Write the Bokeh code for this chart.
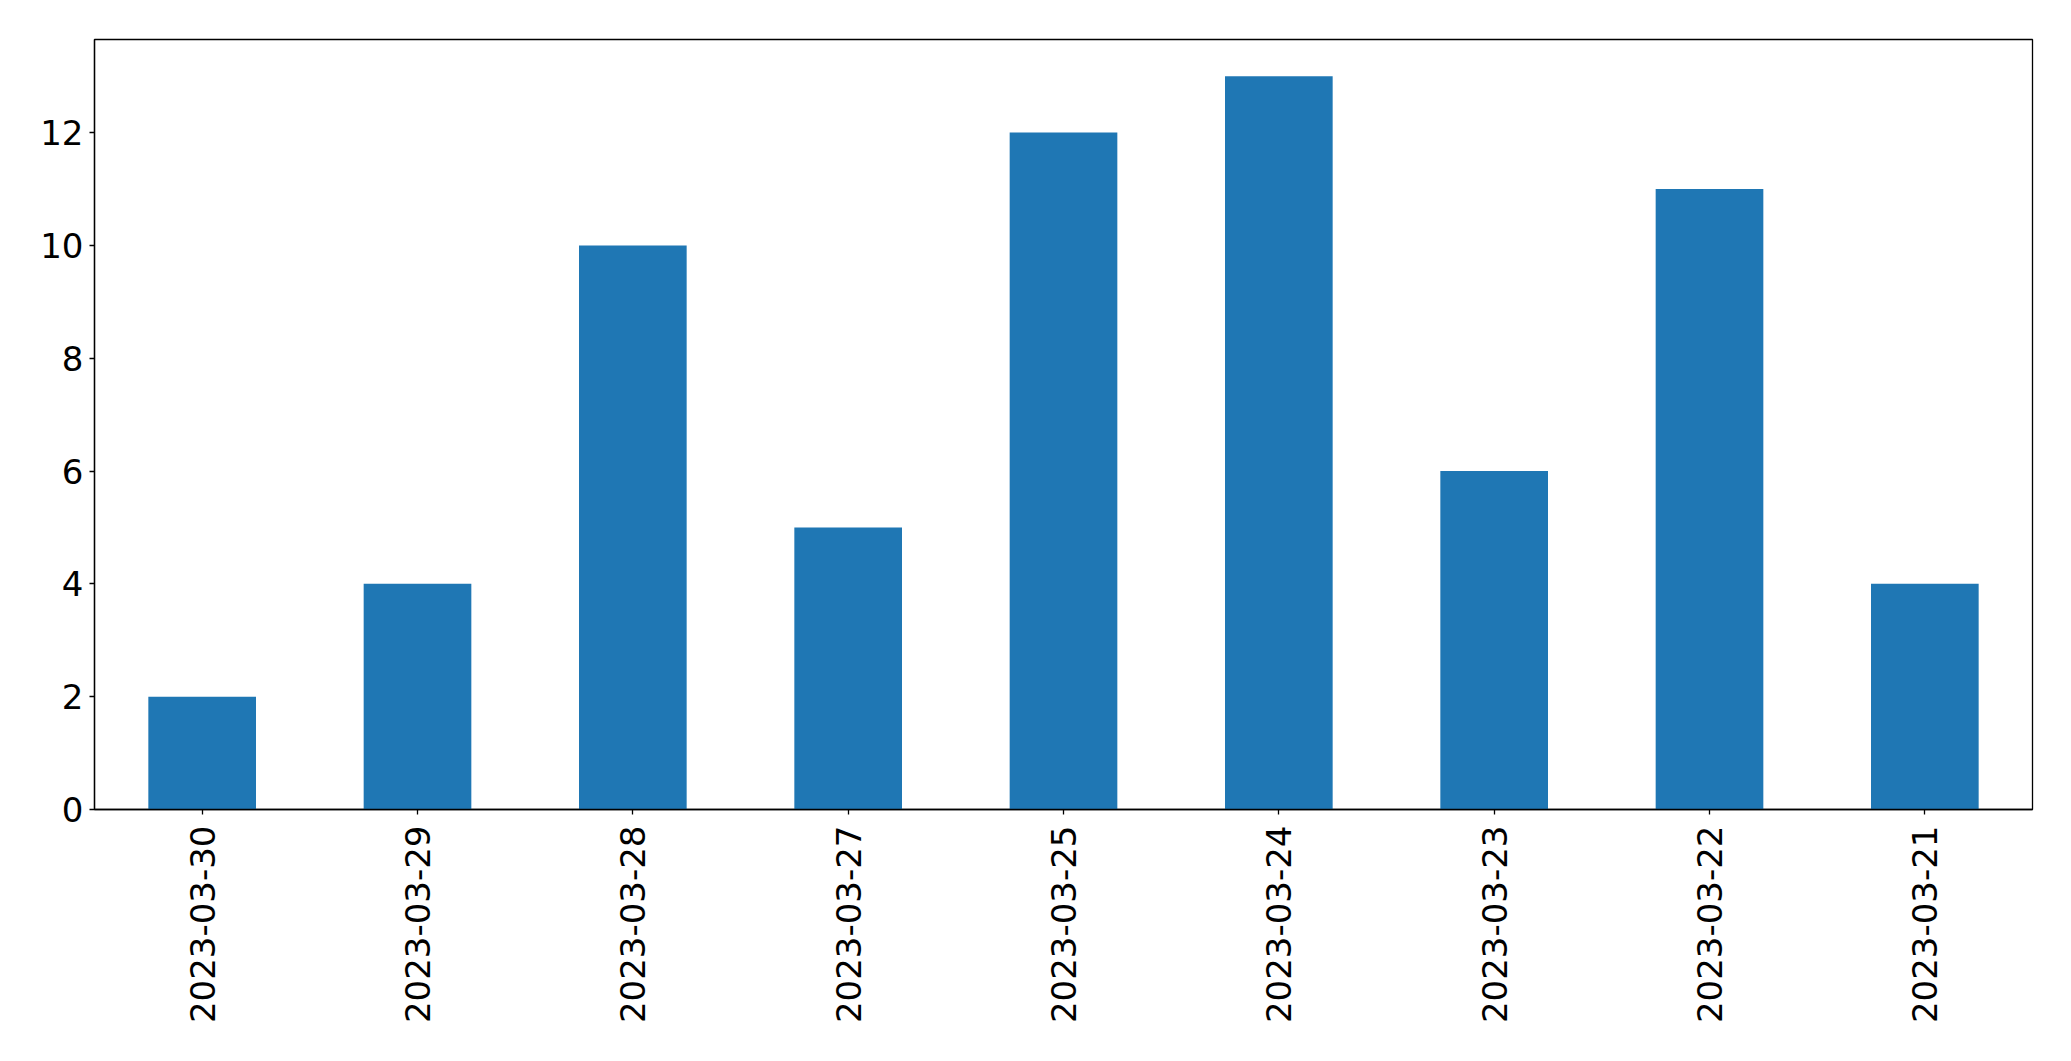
import math
from bokeh.plotting import figure
from bokeh.models import Range1d, FactorRange, FixedTicker, ColumnDataSource
from bokeh.embed import file_html
from bokeh.resources import INLINE

dates = ["2023-03-30", "2023-03-29", "2023-03-28", "2023-03-27", "2023-03-25",
         "2023-03-24", "2023-03-23", "2023-03-22", "2023-03-21"]
counts = [2, 4, 10, 5, 12, 13, 6, 11, 4]
y_ticks = [0, 2, 4, 6, 8, 10, 12]

src = ColumnDataSource(data=dict(date=dates, count=counts))

p = figure(width=2055, height=1045, output_backend="svg", toolbar_location=None,
           x_range=FactorRange(*dates), y_range=Range1d(0, 13.65),
           min_border_left=94, min_border_right=23, min_border_top=39, min_border_bottom=236)

p.vbar(x="date", top="count", width=0.5, source=src, color="#1f77b4", line_color=None)

p.xgrid.visible = False
p.ygrid.visible = False
p.outline_line_color = "black"
p.outline_line_width = 1.3
p.outline_line_alpha = 1

for ax in (p.xaxis, p.yaxis):
    ax.axis_line_color = "black"
    ax.axis_line_width = 1.3
    ax.major_tick_line_color = "black"
    ax.major_tick_line_width = 1.3
    ax.major_tick_out = 5
    ax.major_tick_in = 0
    ax.minor_tick_line_color = None
    ax.major_label_text_font = "DejaVu Sans"
    ax.major_label_text_font_size = "34px"
    ax.major_label_text_color = "black"

p.yaxis.ticker = FixedTicker(ticks=y_ticks)
p.yaxis.major_label_standoff = 6
p.xaxis.major_label_orientation = math.pi / 2
p.xaxis.major_label_standoff = 11

open("out.html", "w").write(file_html(p, INLINE))
